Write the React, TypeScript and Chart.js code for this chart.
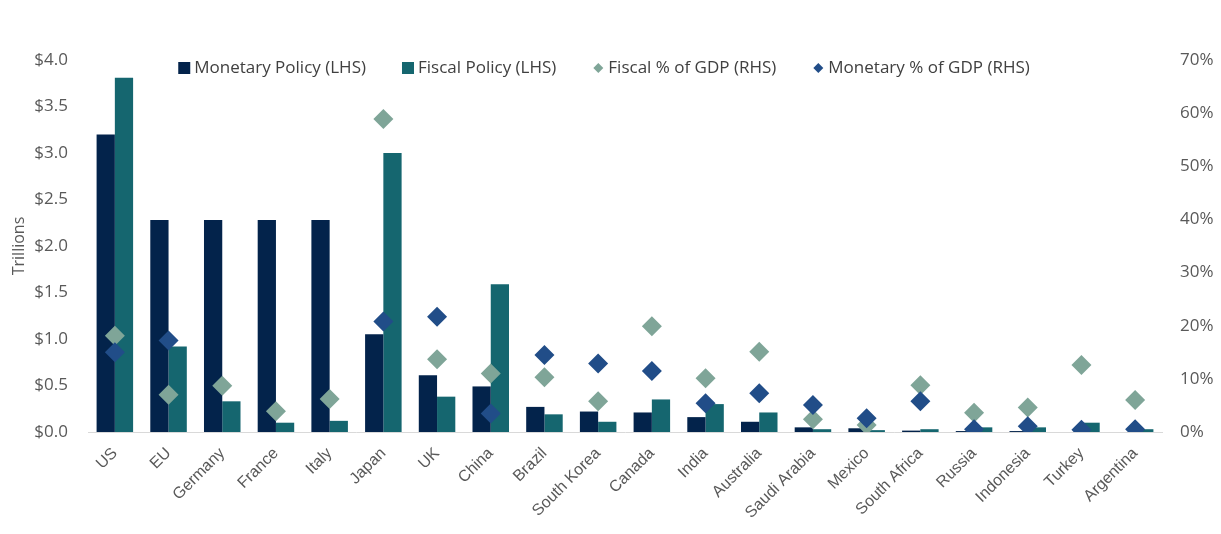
import React, { useEffect, useRef } from "react";
import { Chart, registerables } from "chart.js";

Chart.register(...registerables);

const categories = [
  "US", "EU", "Germany", "France", "Italy", "Japan", "UK", "China", "Brazil", "South Korea",
  "Canada", "India", "Australia", "Saudi Arabia", "Mexico", "South Africa", "Russia", "Indonesia", "Turkey", "Argentina",
];
const monetaryPolicy = [3.2, 2.28, 2.28, 2.28, 2.28, 1.05, 0.61, 0.49, 0.27, 0.22, 0.21, 0.16, 0.11, 0.05, 0.04, 0.015, 0.01, 0.01, 0.0, 0.0];
const fiscalPolicy = [3.81, 0.92, 0.33, 0.1, 0.12, 3.0, 0.38, 1.59, 0.19, 0.11, 0.35, 0.3, 0.21, 0.03, 0.02, 0.03, 0.05, 0.05, 0.1, 0.03];
const fiscalPctGdp = [18.1, 7.0, 8.7, 3.9, 6.2, 58.9, 13.7, 11.0, 10.3, 5.8, 19.9, 10.1, 15.1, 2.4, 1.3, 8.8, 3.6, 4.6, 12.6, 6.0];
const monetaryPctGdp = [15.0, 17.2, null, null, null, 20.8, 21.7, 3.5, 14.5, 12.9, 11.5, 5.4, 7.3, 5.1, 2.6, 5.8, 0.5, 1.1, 0.4, 0.5];
const leftTicks = [0, 0.5, 1, 1.5, 2, 2.5, 3, 3.5, 4];
const rightTicks = [0, 10, 20, 30, 40, 50, 60, 70];

const NAVY = "#03234b";
const TEAL = "#15666f";
const SAGE = "#7fa598";
const BLUE = "#214d88";
const TEXT = "#595959";

export default function App() {
  const ref = useRef<HTMLCanvasElement>(null);
  useEffect(() => {
    if (!ref.current) return;

    const customLegend = {
      id: "customLegend",
      afterDraw(chart: any) {
        const ctx = chart.ctx;
        const datasets = chart.data.datasets;
        const font = "17px 'Open Sans'";
        const iconW = 12;
        const iconGap = 4;
        const itemGap = 36;
        const cy = 68;
        ctx.save();
        ctx.font = font;
        const widths = datasets.map((ds: any) => iconW + iconGap + ctx.measureText(ds.label).width);
        const total = widths.reduce((a: number, b: number) => a + b, 0) + itemGap * (datasets.length - 1);
        let x = 604 - total / 2;
        datasets.forEach((ds: any, i: number) => {
          const color = ds.type === "bar" ? ds.backgroundColor : ds.pointBackgroundColor;
          ctx.fillStyle = color;
          if (ds.type === "bar") {
            ctx.fillRect(x, cy - 6, 12, 12);
          } else {
            const cx = x + 6;
            ctx.beginPath();
            ctx.moveTo(cx, cy - 5);
            ctx.lineTo(cx + 5, cy);
            ctx.lineTo(cx, cy + 5);
            ctx.lineTo(cx - 5, cy);
            ctx.closePath();
            ctx.fill();
          }
          ctx.fillStyle = "#404040";
          ctx.textBaseline = "middle";
          ctx.textAlign = "left";
          ctx.fillText(ds.label, x + iconW + iconGap, cy);
          x += widths[i] + itemGap;
        });
        ctx.restore();
      },
    };

    const chart = new Chart(ref.current, {
      type: "bar",
      data: {
        labels: categories,
        datasets: [
          {
            type: "bar",
            label: "Monetary Policy (LHS)",
            data: monetaryPolicy,
            backgroundColor: NAVY,
            yAxisID: "y",
            order: 2,
            categoryPercentage: 0.68,
            barPercentage: 1.0,
          },
          {
            type: "bar",
            label: "Fiscal Policy (LHS)",
            data: fiscalPolicy,
            backgroundColor: TEAL,
            yAxisID: "y",
            order: 3,
            categoryPercentage: 0.68,
            barPercentage: 1.0,
          },
          {
            type: "line",
            label: "Fiscal % of GDP (RHS)",
            data: fiscalPctGdp,
            showLine: false,
            pointStyle: "rectRot",
            pointRadius: 10,
            pointBackgroundColor: SAGE,
            pointBorderWidth: 0,
            borderColor: SAGE,
            backgroundColor: SAGE,
            yAxisID: "y1",
            order: 1,
          },
          {
            type: "line",
            label: "Monetary % of GDP (RHS)",
            data: monetaryPctGdp,
            showLine: false,
            pointStyle: "rectRot",
            pointRadius: 10,
            pointBackgroundColor: BLUE,
            pointBorderWidth: 0,
            borderColor: BLUE,
            backgroundColor: BLUE,
            yAxisID: "y1",
            order: 0,
          },
        ] as any,
      },
      options: {
        responsive: false,
        animation: false,
        layout: { padding: { top: 60, left: 0, right: 0, bottom: 0 } },
        plugins: {
          tooltip: { enabled: false },
          legend: { display: false },
        },
        scales: {
          x: {
            grid: { display: false, drawTicks: false },
            border: { display: true, color: "#d9d9d9", width: 1 },
            ticks: {
              color: TEXT,
              font: { family: "Liberation Sans", size: 16 },
              minRotation: 45,
              maxRotation: 45,
              padding: 12,
              autoSkip: false,
            },
            afterFit: (s: any) => {
              s.height = 102;
            },
          },
          y: {
            position: "left",
            min: 0,
            max: 4,
            afterBuildTicks: (s: any) => {
              s.ticks = leftTicks.map((v) => ({ value: v }));
            },
            grid: { display: false, drawTicks: false },
            border: { display: false },
            ticks: {
              color: TEXT,
              font: { family: "Open Sans", size: 17 },
              padding: 20,
              callback: (v: any) => "$" + Number(v).toFixed(1),
            },
            title: {
              display: true,
              text: "Trillions",
              color: TEXT,
              font: { family: "Open Sans", size: 16 },
              padding: { top: 10, bottom: 0 },
            },
            afterFit: (s: any) => {
              s.width = 88;
            },
          },
          y1: {
            position: "right",
            min: 0,
            max: 70,
            afterBuildTicks: (s: any) => {
              s.ticks = rightTicks.map((v) => ({ value: v }));
            },
            grid: { display: false, drawTicks: false },
            border: { display: false },
            ticks: {
              color: TEXT,
              font: { family: "Open Sans", size: 17 },
              padding: 18,
              callback: (v: any) => v + "%",
            },
            afterFit: (s: any) => {
              s.width = 59;
            },
          },
        },
      },
      plugins: [customLegend],
    });
    return () => chart.destroy();
  }, []);
  return (
    <div style={{ position: "absolute", left: 0, top: 0, width: 1221, height: 534, background: "#fff" }}>
      <canvas ref={ref} width={1221} height={534} style={{ display: "block" }} />
    </div>
  );
}
